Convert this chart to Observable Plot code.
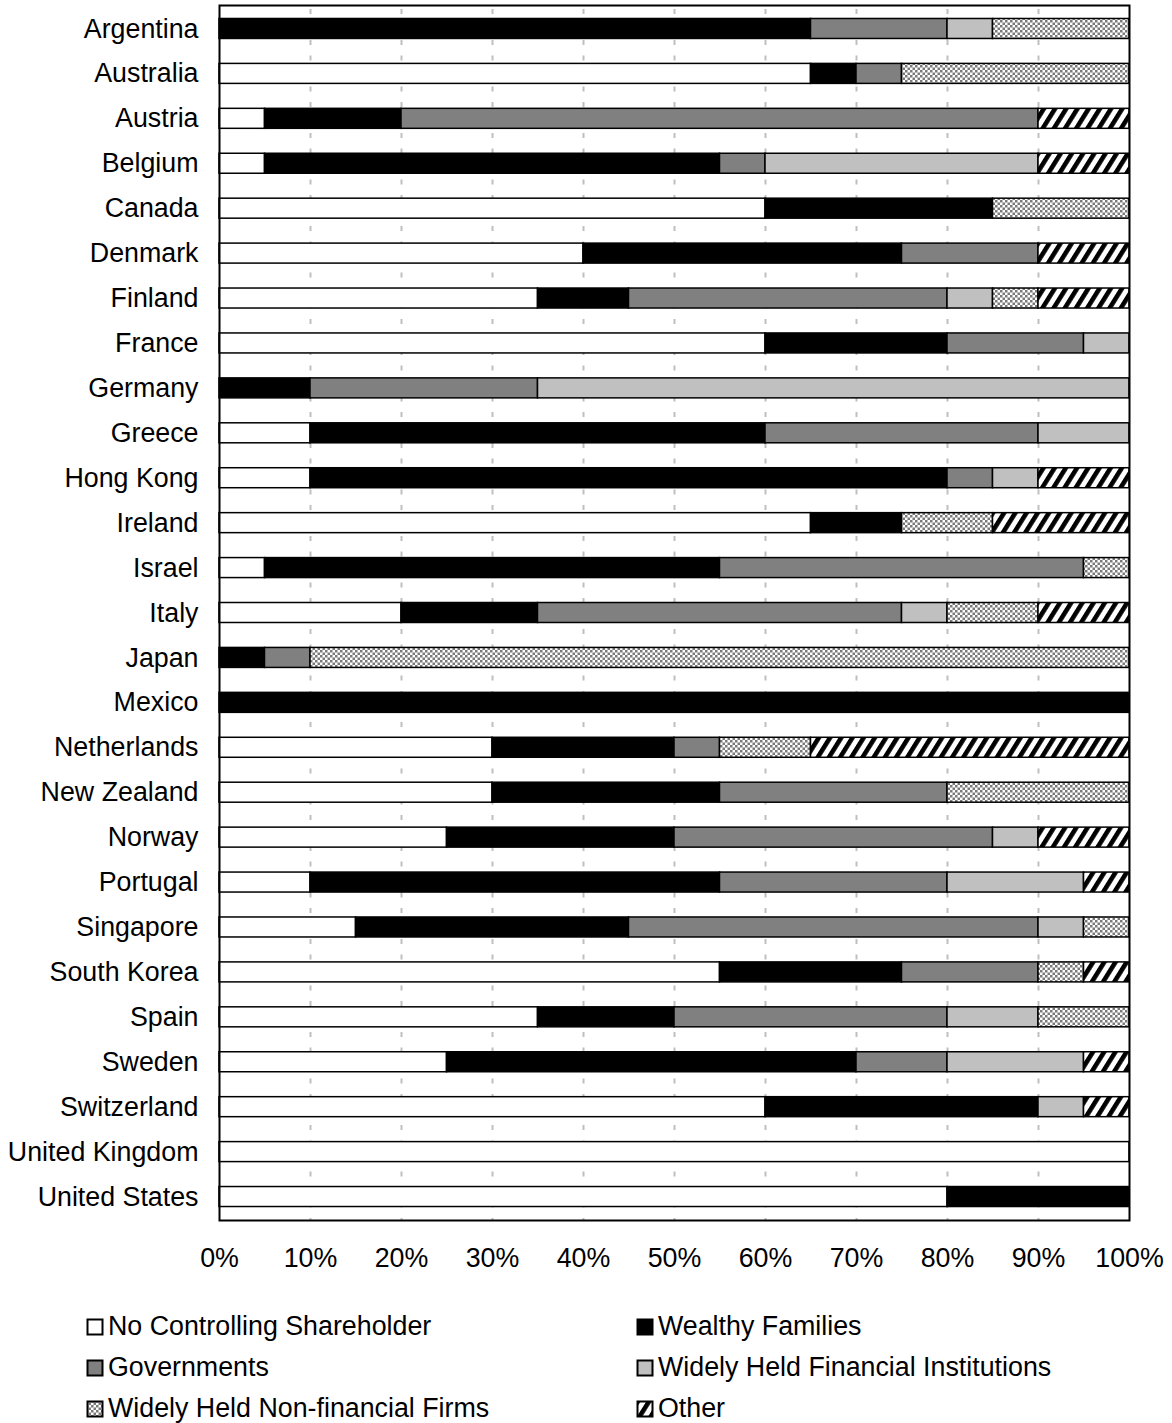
<!DOCTYPE html>
<html>
<head>
<meta charset="utf-8">
<script src="https://cdn.jsdelivr.net/npm/d3@7"></script>
<script src="https://cdn.jsdelivr.net/npm/@observablehq/plot@0.6"></script>
<style>
  body { margin: 0; background: #fff; font-family: "Liberation Sans", Arial, sans-serif; }
  #legend { display: grid; grid-template-columns: 550px 520px; margin-left: 86px; margin-top: 16px; row-gap: 0; }
  .item { display: flex; align-items: center; height: 41px; font-size: 26.8px; color: #000; }
  .item svg { margin-right: 4px; }
</style>
</head>
<body>
<div id="chart"></div>
<div id="legend"></div>
<script>
const countries = ["Argentina","Australia","Austria","Belgium","Canada","Denmark","Finland","France","Germany","Greece","Hong Kong","Ireland","Israel","Italy","Japan","Mexico","Netherlands","New Zealand","Norway","Portugal","Singapore","South Korea","Spain","Sweden","Switzerland","United Kingdom","United States"];
const categories = ["No Controlling Shareholder","Wealthy Families","Governments","Widely Held Financial Institutions","Widely Held Non-financial Firms","Other"];
const noControl   = [0,65,5,5,60,40,35,60,0,10,10,65,5,20,0,0,30,30,25,10,15,55,35,25,60,100,80];
const wealthy     = [65,5,15,50,25,35,10,20,10,50,70,10,50,15,5,100,20,25,25,45,30,20,15,45,30,0,20];
const governments = [15,5,70,5,0,15,35,15,25,30,5,0,40,40,5,0,5,25,35,25,45,15,30,10,0,0,0];
const finInst     = [5,0,0,30,0,0,5,5,65,10,5,0,0,5,0,0,0,0,5,15,5,0,10,15,5,0,0];
const nonFin      = [15,25,0,0,15,0,5,0,0,0,0,10,5,10,90,0,10,20,0,0,5,5,10,0,0,0,0];
const other       = [0,0,10,10,0,10,10,0,0,0,10,15,0,10,0,0,35,0,10,5,0,5,0,5,5,0,0];
const xTicks = [0,10,20,30,40,50,60,70,80,90,100];
const gridTicks = [10,20,30,40,50,60,70,80,90];
const fills = ["#ffffff","#000000","#808080","#c0c0c0","url(#checker)","url(#hatch)"];

const series = [noControl, wealthy, governments, finInst, nonFin, other];
const data = [];
countries.forEach((c, i) => {
  categories.forEach((cat, j) => {
    const v = series[j][i];
    if (v > 0) data.push({country: c, category: cat, value: v});
  });
});

const defsMark = () => {
  const ns = "http://www.w3.org/2000/svg";
  const svgDefs = document.createElementNS(ns, "defs");
  svgDefs.innerHTML = `
    <pattern id="checker" patternUnits="userSpaceOnUse" width="5" height="5">
      <rect width="5" height="5" fill="#ffffff"/>
      <rect x="0" y="0" width="2.5" height="2.5" fill="#7a7a7a"/>
      <rect x="2.5" y="2.5" width="2.5" height="2.5" fill="#7a7a7a"/>
    </pattern>
    <pattern id="hatch" patternUnits="userSpaceOnUse" width="9.5" height="9.5" patternTransform="rotate(32)">
      <rect width="9.5" height="9.5" fill="#ffffff"/>
      <rect x="0" y="0" width="4.6" height="9.5" fill="#000000"/>
    </pattern>`;
  return svgDefs;
};

const chart = Plot.plot({
  width: 1172,
  height: 1290,
  marginLeft: 219,
  marginRight: 43,
  marginTop: 5,
  marginBottom: 70,
  style: {fontFamily: "'Liberation Sans', Arial, sans-serif", fontSize: "26.8px", color: "#000", background: "#fff"},
  x: {domain: [0, 100], ticks: xTicks, tickFormat: d => d + "%"},
  y: {domain: countries, paddingInner: 0.555, paddingOuter: 0.3, round: false},
  color: {domain: categories, range: fills},
  marks: [
    defsMark,
    Plot.ruleX(gridTicks, {stroke: "#bfbfbf", strokeWidth: 2, strokeDasharray: "5,10.5", strokeDashoffset: 11.5}),
    Plot.barX(data, {x: "value", y: "country", fill: "category", order: categories, stroke: "#000", strokeWidth: 1.5, inset: 0}),
    Plot.frame({stroke: "#000", strokeWidth: 2}),
    Plot.axisX({ticks: xTicks, tickSize: 0, tickPadding: 27, tickFormat: d => d + "%", label: null, fontSize: 26.8}),
    Plot.axisY({tickSize: 0, tickPadding: 21, label: null, fontSize: 26.8})
  ]
});
document.getElementById("chart").appendChild(chart);

// legend
const legend = document.getElementById("legend");
[0,1,2,3,4,5].forEach(j => {
  const item = document.createElement("div");
  item.className = "item";
  item.innerHTML = `<svg width="18" height="18"><rect x="1.5" y="1.5" width="15" height="15" fill="${fills[j]}" stroke="#000" stroke-width="2"/></svg><span>${categories[j]}</span>`;
  legend.appendChild(item);
});
</script>
</body>
</html>
